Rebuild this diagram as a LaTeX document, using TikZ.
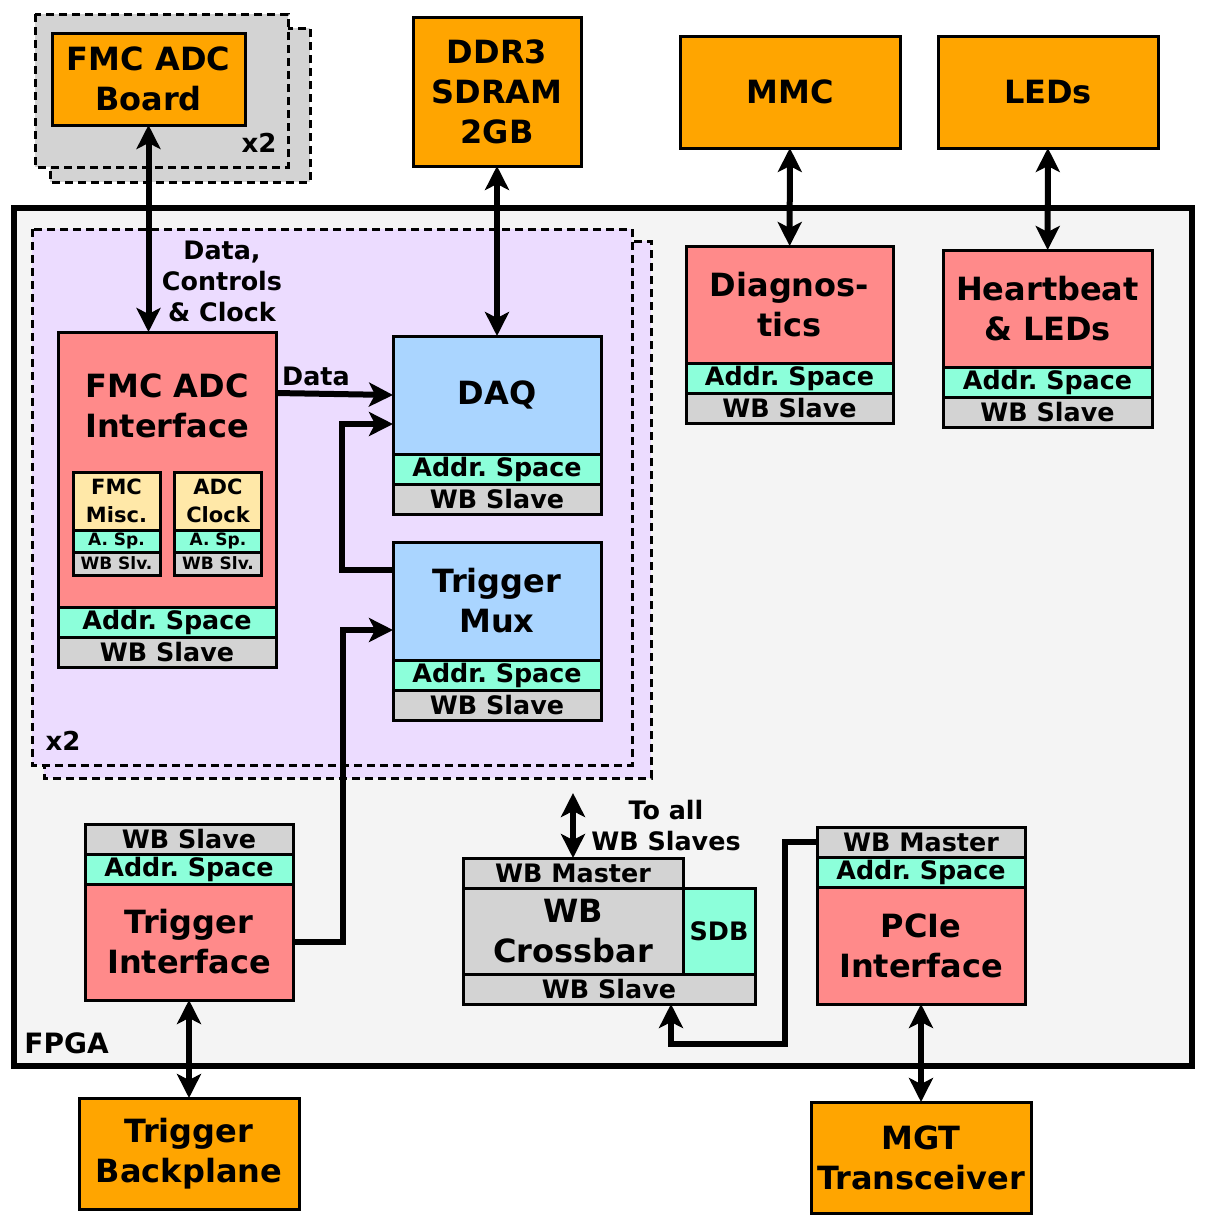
\documentclass[tikz,border=0pt]{standalone}
\usepackage{fontspec}
\setmainfont{DejaVu Sans}
\usetikzlibrary{positioning,arrows.meta,calc}
\definecolor{morange}{RGB}{255,165,0}
\definecolor{mred}{RGB}{255,138,138}
\definecolor{mblue}{RGB}{170,213,255}
\definecolor{mmint}{RGB}{140,255,218}
\definecolor{mgrey}{RGB}{211,211,211}
\definecolor{myellow}{RGB}{255,232,168}
\definecolor{mpurple}{RGB}{236,220,255}
\definecolor{mfpga}{RGB}{244,244,244}

\begin{document}
\begin{tikzpicture}[
    x=0.5pt, y=-0.5pt,
    blk/.style={rectangle, draw=black, line width=1.5pt, inner sep=0pt, outer sep=0pt, align=center, font=\bfseries\fontsize{16}{20}\selectfont},
    extbox/.style={blk, fill=morange, minimum width=110pt, minimum height=56pt},
    redbox/.style={blk, fill=mred, minimum width=104pt},
    bluebox/.style={blk, fill=mblue, minimum width=104pt, minimum height=59pt},
    addrbox/.style={blk, fill=mmint, minimum width=104pt, minimum height=15pt, font=\bfseries\fontsize{12.7}{14}\selectfont},
    slavebox/.style={addrbox, fill=mgrey},
    subbox/.style={blk, fill=myellow, minimum width=43.5pt, minimum height=29pt, font=\bfseries\fontsize{10.5}{14}\selectfont},
    subaddr/.style={blk, fill=mmint, minimum width=43.5pt, minimum height=11pt, font=\bfseries\fontsize{8.5}{9}\selectfont},
    subslave/.style={subaddr, fill=mgrey},
    group/.style={draw=black, line width=1.5pt, dash pattern=on 4pt off 2.5pt},
    txt/.style={inner sep=0pt, align=center, font=\bfseries\fontsize{12.7}{15.5}\selectfont},
    link/.style={line width=3pt, -{Stealth[length=12pt, width=12pt, inset=3pt]}},
    duplex/.style={link, {Stealth[length=12pt, width=12pt, inset=3pt]}-{Stealth[length=12pt, width=12pt, inset=3pt]}},
    ]
\useasboundingbox (0,0) rectangle (1232,1228);

% FMC ADC board, twice
\fill[mgrey] (50,28) rectangle (310,182);
\draw[group] (50,28) rectangle (310,182);
\fill[mgrey] (35,14) rectangle (288,167);
\draw[group] (35,14) rectangle (288,167);
\node[txt, font=\bfseries\fontsize{13}{15}\selectfont] (boardx2) at (259,143) {x2};
\node[extbox, minimum width=96.5pt, minimum height=46pt] (fmcboard) at (148.5,79) {FMC ADC\\Board};

% outside the FPGA
\node[extbox, minimum width=84pt, minimum height=74.5pt] (ddr3) at (497,91.5) {DDR3\\SDRAM\\2GB};
\node[extbox] (mmc) at (790,92) {MMC};
\node[extbox] (leds) at (1048,92) {LEDs};
\node[extbox, minimum height=55.5pt] (backplane) at (189,1153.5) {Trigger\\Backplane};
\node[extbox, minimum height=55.5pt] (mgt) at (921,1157.5) {MGT\\Transceiver};

% FPGA
\draw[line width=3pt, fill=mfpga] (14,208) rectangle (1192,1066);
\node[txt, font=\bfseries\fontsize{14}{16}\selectfont, anchor=west] (fpga) at (24,1043) {FPGA};

% per-channel group, twice
\fill[mpurple] (44,241) rectangle (651,778);
\draw[group] (44,241) rectangle (651,778);
\fill[mpurple] (32,229) rectangle (632,765);
\draw[group] (32,229) rectangle (632,765);
\node[txt, font=\bfseries\fontsize{13}{15}\selectfont] (chx2) at (63,741) {x2};

% FMC ADC interface
\node[redbox, minimum width=109pt, minimum height=137.5pt] (fmcadc) at (167,469.5) {};
\node[addrbox, minimum width=109pt, below=0pt of fmcadc] (fmcadcaddr) {Addr.\ Space};
\node[slavebox, minimum width=109pt, below=0pt of fmcadcaddr] (fmcadcslave) {WB Slave};
\node[txt, font=\bfseries\fontsize{16}{20}\selectfont] (fmcadctitle) at (167,406) {FMC ADC\\Interface};

\node[subbox] (misc) at (116.5,501) {FMC\\Misc.};
\node[subaddr, below=0pt of misc] (miscaddr) {A.\ Sp.};
\node[subslave, minimum height=11.5pt, below=0pt of miscaddr] (miscslave) {WB Slv.};
\node[subbox] (clk) at (218,501) {ADC\\Clock};
\node[subaddr, below=0pt of clk] (clkaddr) {A.\ Sp.};
\node[subslave, minimum height=11.5pt, below=0pt of clkaddr] (clkslave) {WB Slv.};

% DAQ and trigger mux
\node[bluebox] (daq) at (497,395) {DAQ};
\node[addrbox, below=0pt of daq] (daqaddr) {Addr.\ Space};
\node[slavebox, below=0pt of daqaddr] (daqslave) {WB Slave};
\node[bluebox] (tmux) at (497,601) {Trigger\\Mux};
\node[addrbox, below=0pt of tmux] (tmuxaddr) {Addr.\ Space};
\node[slavebox, below=0pt of tmuxaddr] (tmuxslave) {WB Slave};

% diagnostics and heartbeat
\node[redbox, minimum width=103.5pt, minimum height=58.5pt] (diag) at (789.5,304.5) {Diagnos-\\tics};
\node[addrbox, minimum width=103.5pt, below=0pt of diag] (diagaddr) {Addr.\ Space};
\node[slavebox, minimum width=103.5pt, below=0pt of diagaddr] (diagslave) {WB Slave};
\node[redbox, minimum width=104.5pt, minimum height=58.5pt] (hb) at (1047.5,308.5) {Heartbeat\\\& LEDs};
\node[addrbox, minimum width=104.5pt, below=0pt of hb] (hbaddr) {Addr.\ Space};
\node[slavebox, minimum width=104.5pt, below=0pt of hbaddr] (hbslave) {WB Slave};

% trigger interface
\node[slavebox] (trigslave) at (189,839) {WB Slave};
\node[addrbox, below=0pt of trigslave] (trigaddr) {Addr.\ Space};
\node[redbox, minimum height=58pt, below=0pt of trigaddr] (trig) {Trigger\\Interface};

% crossbar
\node[slavebox, minimum width=110pt] (xbarm) at (573,873) {WB Master};
\node[blk, fill=mgrey, minimum width=110pt, minimum height=43pt, below=0pt of xbarm] (xbar) {WB\\Crossbar};
\node[blk, fill=mmint, minimum width=36pt, minimum height=43pt, right=0pt of xbar, font=\bfseries\fontsize{12.7}{14}\selectfont] (sdb) {SDB};
\node[slavebox, minimum width=146pt] (xbars) at (609,989) {WB Slave};
\coordinate (toall) at (573,793);
\node[txt] (toalltxt) at (666,826) {To all\\WB Slaves};

% PCIe
\node[slavebox] (pciem) at (921,842) {WB Master};
\node[addrbox, below=0pt of pciem] (pcieaddr) {Addr.\ Space};
\node[redbox, minimum height=58.5pt, below=0pt of pcieaddr] (pcie) {PCIe\\Interface};

% connectors
\draw[duplex] (fmcboard.south) -- (fmcboard.south |- fmcadc.north);
\draw[duplex] (ddr3) -- (daq);
\draw[duplex] (mmc) -- (diag);
\draw[duplex] (leds) -- (hb);
\draw[duplex] (trig) -- (backplane);
\draw[duplex] (pcie) -- (mgt);
\draw[duplex] (xbarm.north) -- (toall);

\draw[link] ($(fmcadc.north east)+(0,61)$) -- ($(daq.west)$);
\node[txt] (datatxt) at (316,376) {Data};
\node[txt] (dcctxt) at (222,281) {Data,\\Controls\\\& Clock};
\draw[link] ($(tmux.north west)+(0,28)$) -- ++(-51,0) |- ($(daq.south west)+(0,-30)$);
\draw[link] (trig.east) -- ++(50,0) |- ($(tmux.south west)+(0,-30)$);
\draw[link] (pciem.west) -- ++(-32,0) -- ++(0,202) -| ($(xbars.south)+(62,0)$);

\end{tikzpicture}
\end{document}
